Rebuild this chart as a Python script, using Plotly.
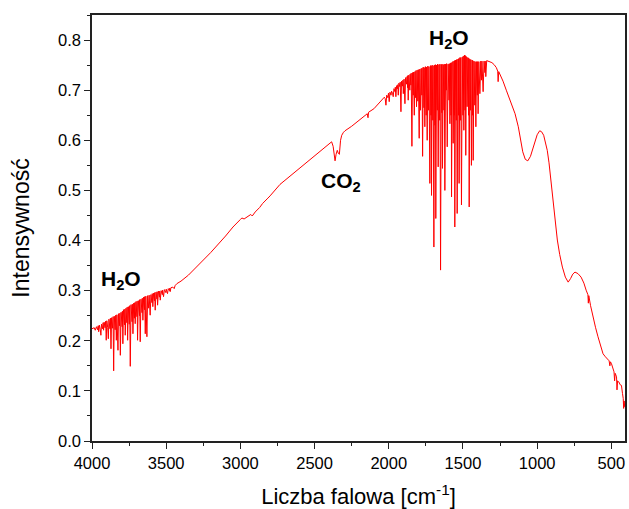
import plotly.graph_objects as go

# ---- spectrum data (wavenumber [cm-1], intensity) ----
# O-H stretching region of water vapour
wn_stretch = [4000, 3985, 3978, 3970, 3963, 3958, 3955, 3950, 3944, 3940, 3936, 3929, 3925, 3922,
              3918, 3912, 3908, 3904, 3900, 3894, 3890, 3886, 3879, 3876, 3872, 3868, 3861, 3858,
              3854, 3850, 3844, 3840, 3836, 3832, 3825, 3821, 3815, 3812, 3809, 3804, 3797, 3795,
              3792, 3788, 3781, 3779, 3776, 3771, 3765, 3763, 3760, 3755, 3749, 3746, 3742, 3737,
              3730, 3728, 3724, 3719, 3714, 3712, 3709, 3704, 3697, 3696, 3693, 3688, 3680, 3679,
              3675, 3670, 3663, 3661, 3657, 3652, 3646, 3645, 3641, 3637, 3630, 3625, 3618, 3615,
              3608, 3603, 3596, 3594, 3590, 3585, 3579, 3578, 3574, 3569, 3562, 3561, 3558, 3552,
              3545, 3544, 3540, 3534, 3526, 3524, 3518, 3512, 3502, 3500, 3491, 3486, 3478, 3476,
              3473, 3468, 3455, 3446, 3440, 3428]
int_stretch = [0.224, 0.226, 0.221, 0.228, 0.222, 0.230, 0.218, 0.231, 0.222, 0.211, 0.233, 0.224, 0.236, 0.221,
               0.237, 0.226, 0.239, 0.201, 0.240, 0.226, 0.204, 0.243, 0.224, 0.245, 0.184, 0.246, 0.225, 0.248,
               0.140, 0.249, 0.222, 0.251, 0.201, 0.252, 0.181, 0.254, 0.230, 0.255, 0.171, 0.257, 0.228, 0.259,
               0.194, 0.262, 0.232, 0.263, 0.211, 0.265, 0.236, 0.267, 0.201, 0.268, 0.233, 0.270, 0.149, 0.272,
               0.238, 0.273, 0.214, 0.275, 0.245, 0.276, 0.234, 0.278, 0.248, 0.279, 0.201, 0.280, 0.250, 0.282,
               0.198, 0.283, 0.256, 0.285, 0.241, 0.287, 0.262, 0.288, 0.214, 0.289, 0.208, 0.290, 0.265, 0.291,
               0.251, 0.292, 0.276, 0.294, 0.268, 0.295, 0.280, 0.296, 0.261, 0.297, 0.283, 0.298, 0.271, 0.299,
               0.287, 0.299, 0.281, 0.300, 0.292, 0.301, 0.288, 0.302, 0.296, 0.303, 0.294, 0.304, 0.300, 0.305,
               0.298, 0.306, 0.307, 0.304, 0.310, 0.314]

# smooth part up to and including the CO2 band
wn_mid = [3400, 3350, 3300, 3200, 3100, 3050, 3000, 2990, 2975, 2960, 2940, 2930, 2920, 2900,
          2870, 2850, 2820, 2800, 2733, 2600, 2500, 2400, 2395, 2385, 2375, 2362, 2355, 2347,
          2340, 2333, 2325, 2317, 2305, 2295, 2250, 2200, 2145, 2140, 2136, 2100, 2060]
int_mid = [0.319, 0.331, 0.346, 0.376, 0.409, 0.427, 0.442, 0.445, 0.443, 0.446, 0.449, 0.452, 0.449, 0.457,
           0.466, 0.474, 0.483, 0.489, 0.512, 0.544, 0.568, 0.592, 0.594, 0.597, 0.588, 0.559, 0.572, 0.580,
           0.574, 0.572, 0.600, 0.610, 0.616, 0.619, 0.628, 0.640, 0.653, 0.645, 0.656, 0.663, 0.677]

# H-O-H bending region of water vapour
wn_bend = [2030, 2024, 2019, 2014, 2006, 2002, 1997, 1992, 1985, 1981, 1975, 1970, 1965, 1958,
           1956, 1952, 1947, 1941, 1939, 1936, 1932, 1925, 1923, 1918, 1914, 1906, 1905, 1902,
           1897, 1891, 1887, 1880, 1877, 1873, 1872, 1869, 1865, 1858, 1856, 1851, 1849, 1844,
           1840, 1835, 1833, 1828, 1824, 1819, 1817, 1813, 1809, 1804, 1801, 1795, 1791, 1786,
           1782, 1777, 1776, 1772, 1768, 1763, 1761, 1757, 1753, 1748, 1746, 1741, 1737, 1732,
           1729, 1723, 1719, 1715, 1714, 1712, 1708, 1703, 1701, 1696, 1692, 1688, 1686, 1683,
           1678, 1673, 1671, 1667, 1662, 1657, 1655, 1651, 1646, 1642, 1641, 1638, 1633, 1628,
           1626, 1622, 1617, 1612, 1610, 1606, 1600, 1594, 1592, 1588, 1583, 1580, 1579, 1577,
           1572, 1569, 1568, 1566, 1561, 1558, 1557, 1555, 1550, 1545, 1543, 1539, 1534, 1530,
           1529, 1526, 1521, 1517, 1515, 1510, 1505, 1500, 1498, 1494, 1490, 1486, 1484, 1481,
           1477, 1475, 1474, 1472, 1467, 1462, 1461, 1458, 1454, 1449, 1447, 1443, 1438, 1435,
           1434, 1431, 1426, 1420, 1418, 1413, 1408, 1403, 1401, 1398, 1393, 1389, 1388, 1386,
           1380, 1375, 1372, 1364, 1358, 1352, 1350, 1346, 1340, 1330, 1319, 1305, 1290, 1275,
           1266, 1263, 1259]
int_bend = [0.686, 0.683, 0.670, 0.690, 0.685, 0.694, 0.677, 0.696, 0.690, 0.698, 0.694, 0.687, 0.703, 0.697,
            0.706, 0.687, 0.709, 0.703, 0.711, 0.690, 0.714, 0.707, 0.716, 0.657, 0.718, 0.708, 0.720, 0.693,
            0.722, 0.673, 0.725, 0.712, 0.727, 0.705, 0.729, 0.680, 0.730, 0.700, 0.732, 0.710, 0.734, 0.588,
            0.735, 0.690, 0.736, 0.650, 0.737, 0.685, 0.739, 0.667, 0.740, 0.678, 0.741, 0.604, 0.742, 0.660,
            0.743, 0.690, 0.744, 0.568, 0.746, 0.665, 0.745, 0.627, 0.747, 0.650, 0.746, 0.600, 0.748, 0.660,
            0.747, 0.514, 0.749, 0.650, 0.748, 0.490, 0.750, 0.640, 0.749, 0.387, 0.750, 0.630, 0.751, 0.444,
            0.750, 0.660, 0.752, 0.547, 0.751, 0.640, 0.752, 0.341, 0.751, 0.655, 0.752, 0.544, 0.751, 0.660,
            0.752, 0.500, 0.752, 0.700, 0.753, 0.587, 0.752, 0.680, 0.753, 0.633, 0.754, 0.650, 0.755, 0.487,
            0.756, 0.640, 0.757, 0.594, 0.758, 0.650, 0.759, 0.427, 0.760, 0.640, 0.761, 0.454, 0.762, 0.650,
            0.763, 0.514, 0.765, 0.640, 0.765, 0.471, 0.766, 0.650, 0.768, 0.620, 0.770, 0.660, 0.769, 0.570,
            0.767, 0.680, 0.766, 0.667, 0.765, 0.650, 0.764, 0.467, 0.762, 0.660, 0.761, 0.550, 0.760, 0.650,
            0.759, 0.560, 0.758, 0.670, 0.757, 0.627, 0.757, 0.690, 0.757, 0.653, 0.757, 0.700, 0.757, 0.693,
            0.758, 0.720, 0.758, 0.697, 0.758, 0.735, 0.758, 0.727, 0.759, 0.758, 0.757, 0.755, 0.751, 0.745,
            0.738, 0.717, 0.737]

# low-wavenumber tail
wn_tail = [1252, 1230, 1208, 1180, 1149, 1127, 1110, 1097, 1080, 1063, 1045, 1024, 1000, 983,
           970, 956, 945, 932, 920, 910, 898, 887, 875, 864, 848, 830, 810, 791, 775, 760, 745,
           725, 704, 685, 670, 658, 655, 652, 640, 624, 607, 590, 572, 556, 540, 530, 522, 515,
           510, 506, 499, 490, 482, 478, 474, 465, 462, 458, 450, 440, 432, 425, 420, 417, 414, 410]
int_tail = [0.733, 0.718, 0.700, 0.678, 0.653, 0.627, 0.598, 0.577, 0.562, 0.559, 0.568, 0.587, 0.611, 0.619,
            0.617, 0.610, 0.597, 0.580, 0.555, 0.527, 0.494, 0.460, 0.430, 0.401, 0.372, 0.347, 0.327, 0.317,
            0.324, 0.333, 0.337, 0.334, 0.327, 0.315, 0.301, 0.292, 0.275, 0.290, 0.270, 0.247, 0.227, 0.208,
            0.188, 0.174, 0.168, 0.165, 0.164, 0.160, 0.150, 0.158, 0.154, 0.145, 0.138, 0.120, 0.135, 0.128,
            0.102, 0.120, 0.118, 0.112, 0.111, 0.095, 0.085, 0.065, 0.080, 0.068]

x_ticks = [4000, 3500, 3000, 2500, 2000, 1500, 1000, 500]
y_ticks = [0.0, 0.1, 0.2, 0.3, 0.4, 0.5, 0.6, 0.7, 0.8]

wavenumber = wn_stretch + wn_mid + wn_bend + wn_tail
intensity = int_stretch + int_mid + int_bend + int_tail

FONT = "Liberation Sans, Arial, sans-serif"

fig = go.Figure()
fig.add_trace(go.Scatter(x=wavenumber, y=intensity, mode="lines",
                         line=dict(color="#ff0000", width=1), hoverinfo="skip",
                         showlegend=False))

ann_style = dict(showarrow=False, font=dict(family=FONT, size=21, color="black"),
                 xref="x", yref="y")
fig.add_annotation(x=3802, y=0.322, text="<b>H<sub>2</sub>O</b>", **ann_style)
fig.add_annotation(x=2322, y=0.516, text="<b>CO<sub>2</sub></b>", **ann_style)
fig.add_annotation(x=1594, y=0.802, text="<b>H<sub>2</sub>O</b>", **ann_style)

axis_common = dict(showline=True, linecolor="#222222", linewidth=1.5, mirror=True,
                   ticks="outside", ticklen=6, tickwidth=1.2, tickcolor="#222222",
                   showgrid=False, zeroline=False, automargin=False,
                   tickfont=dict(family=FONT, size=16.5, color="black"))

fig.update_xaxes(range=[4000, 408], tickvals=x_ticks,
                 minor=dict(dtick=250, ticklen=3, tickwidth=1.2, tickcolor="#222222", ticks="outside"),
                 title=dict(text="Liczba falowa [cm<sup>-1</sup>]",
                            font=dict(family=FONT, size=22, color="black"), standoff=21),
                 **axis_common)
fig.update_yaxes(range=[0, 0.85], tickvals=y_ticks, tickformat=".1f",
                 minor=dict(dtick=0.05, ticklen=3, tickwidth=1.2, tickcolor="#222222", ticks="outside"),
                 title=dict(text="Intensywność",
                            font=dict(family=FONT, size=23, color="black"), standoff=22),
                 **axis_common)

fig.update_layout(width=629, height=509, margin=dict(l=92, r=4, t=15, b=68),
                  plot_bgcolor="white", paper_bgcolor="white")

fig.write_html("out.html", config={"displayModeBar": False},
               post_script="document.body.style.margin='0';document.body.style.overflow='hidden';")
